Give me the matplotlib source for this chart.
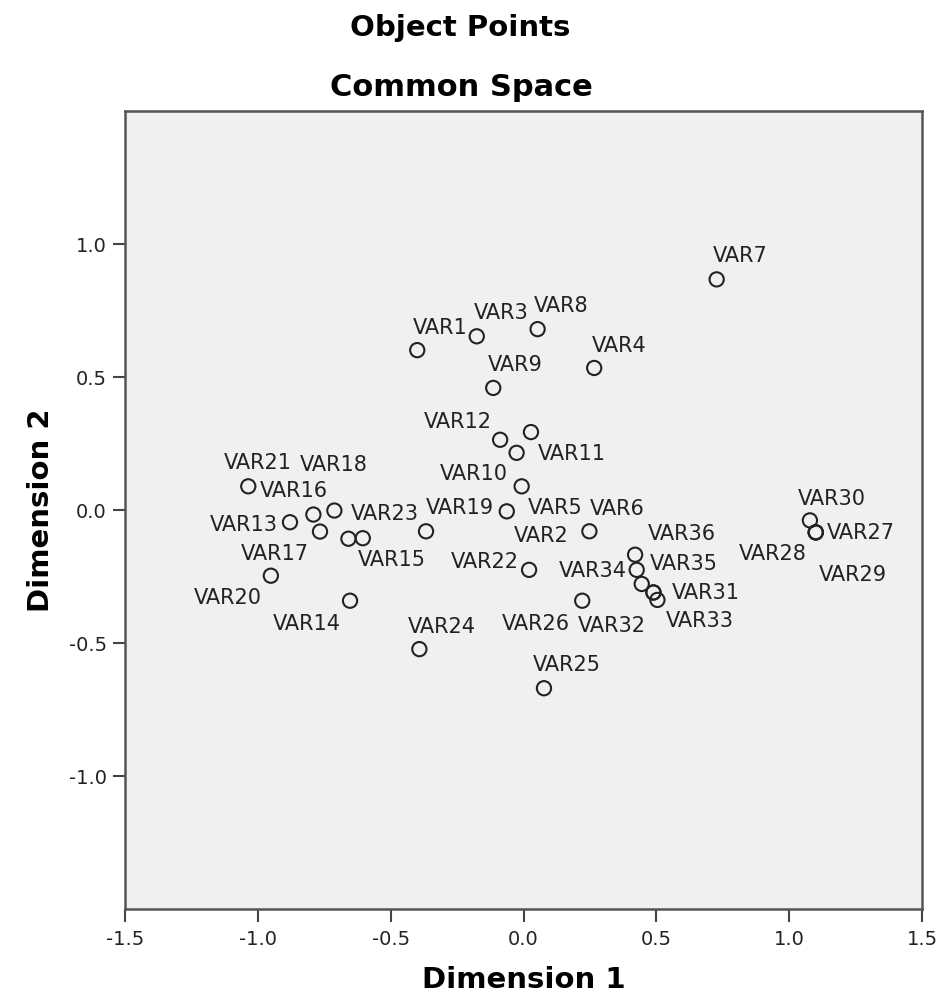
import matplotlib
matplotlib.use("Agg")
import matplotlib.pyplot as plt

# object points (common space)
names = [f"VAR{i}" for i in range(1, 37)]
dim1 = [-0.400, -0.063, -0.176, 0.266, -0.007, 0.248, 0.727, 0.053, -0.114, -0.026,
        0.028, -0.088, -0.879, -0.653, -0.659, -0.791, -0.766, -0.712, -0.367, -0.951,
        -1.036, 0.021, -0.605, -0.392, 0.077, 0.221, 1.100, 1.100, 1.100, 1.078,
        0.489, 0.489, 0.504, 0.426, 0.445, 0.420]
dim2 = [0.601, -0.005, 0.653, 0.534, 0.089, -0.080, 0.867, 0.680, 0.459, 0.215,
        0.293, 0.264, -0.046, -0.341, -0.108, -0.017, -0.081, -0.002, -0.080, -0.247,
        0.089, -0.225, -0.106, -0.523, -0.670, -0.341, -0.084, -0.084, -0.084, -0.039,
        -0.310, -0.310, -0.338, -0.225, -0.278, -0.168]

# label placement (pixel offset of label edge / cap centre from the point, alignment)
label_pos = {
    "VAR1": (-4, -23, "left"), "VAR2": (7, 24, "left"), "VAR3": (-3, -24, "left"),
    "VAR4": (-2, -23, "left"), "VAR5": (6, 21, "left"), "VAR6": (0, -23, "left"),
    "VAR7": (-4, -24, "left"), "VAR8": (-4, -24, "left"), "VAR9": (-5, -24, "left"),
    "VAR10": (-9, 20, "right"), "VAR11": (7, 21, "left"), "VAR12": (-8, -19, "right"),
    "VAR13": (-12, 2, "right"), "VAR14": (-9, 22, "right"), "VAR15": (9, 20, "left"),
    "VAR16": (-54, -25, "left"), "VAR17": (-11, 21, "right"), "VAR18": (-35, -47, "left"),
    "VAR19": (0, -24, "left"), "VAR20": (-9, 21, "right"), "VAR21": (-24, -24, "left"),
    "VAR22": (-10, -9, "right"), "VAR23": (-12, -25, "left"), "VAR24": (-12, -23, "left"),
    "VAR25": (-11, -24, "left"), "VAR26": (-12, 22, "right"), "VAR27": (11, 0, "left"),
    "VAR28": (-9, 21, "right"), "VAR29": (3, 42, "left"), "VAR30": (-12, -22, "left"),
    "VAR31": (18, 0, "left"), "VAR32": (-8, 33, "right"), "VAR33": (8, 20, "left"),
    "VAR34": (-10, 0, "right"), "VAR35": (8, -21, "left"), "VAR36": (13, -22, "left"),
}

fig = plt.figure(figsize=(9.42, 10.01), dpi=100)
ax = fig.add_axes([0.1327, 0.0919, 0.8461, 0.7972])
ax.set_facecolor("#f0f0f0")

ax.scatter(dim1, dim2, s=105, facecolors="none", edgecolors="#222222", linewidths=1.5, zorder=3)

for n, x, y in zip(names, dim1, dim2):
    dx, dy, ha = label_pos[n]
    ax.annotate(n, (x, y), xytext=(dx, -(dy + 7)), textcoords="offset pixels",
                ha=ha, va="baseline", fontsize=15, color="#222222")

ax.set_xlim(-1.5, 1.5)
ax.set_ylim(-1.5, 1.5)
ax.set_xticks([-1.5, -1.0, -0.5, 0.0, 0.5, 1.0, 1.5])
ax.set_yticks([-1.0, -0.5, 0.0, 0.5, 1.0])
ax.xaxis.set_major_formatter(matplotlib.ticker.FormatStrFormatter("%.1f"))
ax.yaxis.set_major_formatter(matplotlib.ticker.FormatStrFormatter("%.1f"))
ax.tick_params(axis="both", direction="out", length=9, width=1.5, color="#444444",
               labelsize=14, labelcolor="#222222")
ax.tick_params(axis="x", pad=6)
ax.tick_params(axis="y", pad=4)
for sp in ax.spines.values():
    sp.set_color("#555555")
    sp.set_linewidth(1.8)

ax.set_xlabel("Dimension 1", fontsize=21, fontweight="bold", labelpad=12)
ax.set_ylabel("Dimension 2", fontsize=21, fontweight="bold", labelpad=10)

fig.text(0.489, 0.972, "Object Points", ha="center", va="center", fontsize=21, fontweight="bold")
fig.text(0.490, 0.913, "Common Space", ha="center", va="center", fontsize=22, fontweight="bold")

fig.savefig("out.png", dpi=100)
